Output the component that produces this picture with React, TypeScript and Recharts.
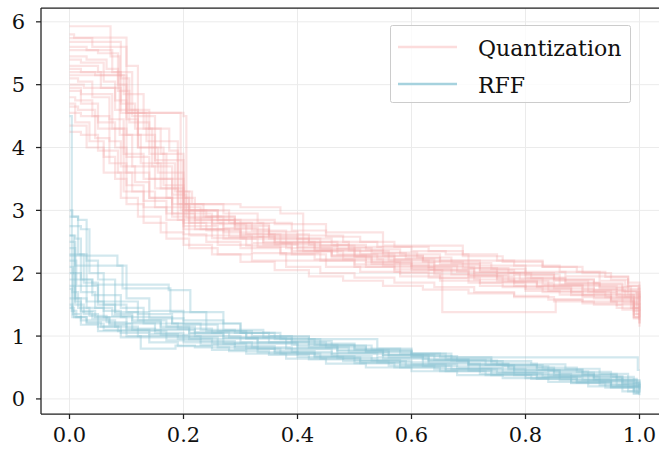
import { LineChart, Line, XAxis, YAxis, CartesianGrid, ReferenceLine } from "recharts";

// each run is a step curve: [x, y] pairs, y holds until the next x
const quantizationRuns: number[][][] = [
  [[0, 5.93], [0.072, 5.45], [0.088, 4.2], [0.11, 3.7], [0.15, 3.35], [0.2, 2.95], [0.25, 2.78], [0.31, 2.62], [0.37, 2.48], [0.44, 2.38], [0.51, 2.3], [0.57, 2.22], [0.64, 2.12], [0.72, 2.02], [0.8, 1.93], [0.87, 1.85], [0.93, 1.78], [0.985, 1.55], [1, 1.55]],
  [[0, 5.74], [0.04, 5.6], [0.1, 4.55], [0.135, 4.1], [0.19, 3.05], [0.23, 2.85], [0.29, 2.7], [0.35, 2.55], [0.42, 2.45], [0.49, 2.36], [0.55, 2.28], [0.62, 2.2], [0.7, 2.08], [0.77, 2.0], [0.85, 1.9], [0.92, 1.84], [0.97, 1.72], [0.995, 1.35], [1, 1.35]],
  [[0, 5.68], [0.03, 5.68], [0.09, 5.1], [0.105, 4.4], [0.14, 3.9], [0.17, 3.2], [0.21, 2.9], [0.27, 2.72], [0.33, 2.58], [0.4, 2.42], [0.47, 2.3], [0.54, 2.22], [0.6, 2.12], [0.68, 2.02], [0.75, 1.92], [0.83, 1.82], [0.9, 1.74], [0.96, 1.66], [0.99, 1.3], [1, 1.3]],
  [[0, 5.2], [0.045, 5.15], [0.1, 4.55], [0.195, 3.0], [0.22, 2.85], [0.3, 2.62], [0.36, 2.5], [0.43, 2.38], [0.5, 2.27], [0.56, 2.2], [0.63, 2.1], [0.71, 2.0], [0.79, 1.9], [0.86, 1.82], [0.92, 1.73], [0.975, 1.62], [1, 1.45]],
  [[0, 5.15], [0.06, 5.05], [0.08, 4.6], [0.12, 4.0], [0.155, 3.6], [0.2, 2.8], [0.24, 2.68], [0.3, 2.55], [0.38, 2.4], [0.46, 2.28], [0.53, 2.18], [0.6, 2.08], [0.67, 1.98], [0.75, 1.88], [0.82, 1.8], [0.9, 1.72], [0.95, 1.65], [0.99, 1.4], [1, 1.4]],
  [[0, 4.9], [0.02, 4.85], [0.075, 4.3], [0.095, 3.9], [0.13, 3.5], [0.18, 3.1], [0.21, 2.8], [0.27, 2.65], [0.34, 2.5], [0.41, 2.35], [0.48, 2.22], [0.55, 2.12], [0.63, 2.05], [0.7, 1.95], [0.78, 1.85], [0.85, 1.76], [0.92, 1.68], [0.97, 1.6], [1, 1.25]],
  [[0, 4.55], [0.02, 4.5], [0.05, 4.3], [0.1, 3.85], [0.14, 3.5], [0.2, 2.75], [0.26, 2.6], [0.32, 2.48], [0.39, 2.35], [0.46, 2.25], [0.53, 2.15], [0.6, 2.05], [0.654, 1.38], [0.853, 1.58], [0.9, 1.55], [0.96, 1.5], [1, 1.2]],
  [[0, 5.55], [0.05, 5.5], [0.085, 5.0], [0.1, 4.45], [0.12, 4.0], [0.165, 3.4], [0.2, 3.1], [0.3, 3.05], [0.37, 2.95], [0.41, 2.6], [0.48, 2.5], [0.54, 2.42], [0.6, 2.35], [0.66, 2.3], [0.7, 2.2], [0.78, 2.12], [0.86, 2.02], [0.93, 1.95], [0.98, 1.8], [1, 1.55]],
  [[0, 5.3], [0.05, 5.2], [0.11, 4.5], [0.15, 3.8], [0.2, 3.0], [0.26, 2.85], [0.36, 2.78], [0.45, 2.65], [0.55, 2.44], [0.69, 2.3], [0.75, 2.2], [0.83, 2.1], [0.9, 2.0], [0.95, 1.9], [0.98, 1.75], [1, 1.6]],
  [[0, 4.8], [0.01, 4.75], [0.04, 4.5], [0.07, 4.1], [0.09, 3.7], [0.115, 3.45], [0.14, 3.2], [0.18, 2.95], [0.22, 2.7], [0.27, 2.55], [0.33, 2.42], [0.39, 2.3], [0.45, 2.2], [0.52, 2.1], [0.58, 2.0], [0.65, 1.92], [0.72, 1.85], [0.8, 1.75], [0.88, 1.65], [0.95, 1.55], [0.99, 1.45], [1, 1.45]],
  [[0, 5.0], [0.025, 4.95], [0.08, 4.75], [0.1, 4.2], [0.125, 3.75], [0.16, 3.35], [0.19, 3.1], [0.235, 2.9], [0.29, 2.75], [0.35, 2.6], [0.41, 2.5], [0.47, 2.4], [0.53, 2.32], [0.59, 2.24], [0.65, 2.15], [0.72, 2.05], [0.78, 1.97], [0.85, 1.88], [0.91, 1.8], [0.96, 1.72], [0.995, 1.5], [1, 1.5]],
  [[0, 5.6], [0.03, 5.55], [0.075, 5.2], [0.09, 4.7], [0.115, 4.3], [0.145, 3.7], [0.18, 3.25], [0.205, 2.88], [0.25, 2.7], [0.3, 2.58], [0.36, 2.46], [0.43, 2.35], [0.5, 2.26], [0.57, 2.16], [0.64, 2.06], [0.71, 1.97], [0.77, 1.88], [0.84, 1.8], [0.91, 1.7], [0.96, 1.62], [0.99, 1.35], [1, 1.35]],
  [[0, 4.65], [0.015, 4.6], [0.045, 4.15], [0.07, 3.75], [0.1, 3.4], [0.13, 3.15], [0.17, 2.95], [0.2, 2.7], [0.25, 2.56], [0.31, 2.44], [0.37, 2.32], [0.44, 2.2], [0.5, 2.1], [0.57, 2.02], [0.63, 1.93], [0.7, 1.85], [0.76, 1.78], [0.83, 1.7], [0.9, 1.62], [0.95, 1.55], [0.99, 1.3], [1, 1.3]],
  [[0, 5.4], [0.02, 5.35], [0.06, 5.15], [0.095, 4.85], [0.13, 4.3], [0.16, 3.9], [0.2, 3.2], [0.22, 3.0], [0.28, 2.8], [0.34, 2.66], [0.4, 2.55], [0.46, 2.45], [0.52, 2.38], [0.58, 2.3], [0.65, 2.2], [0.72, 2.12], [0.8, 2.02], [0.87, 1.95], [0.93, 1.88], [0.975, 1.8], [0.998, 1.6], [1, 1.6]],
  [[0, 4.25], [0.02, 4.2], [0.05, 3.95], [0.085, 3.6], [0.11, 3.3], [0.15, 3.05], [0.19, 2.85], [0.23, 2.7], [0.28, 2.58], [0.34, 2.46], [0.4, 2.36], [0.46, 2.28], [0.52, 2.18], [0.58, 2.1], [0.64, 2.03], [0.7, 1.95], [0.76, 1.86], [0.82, 1.78], [0.88, 1.7], [0.94, 1.62], [0.985, 1.45], [1, 1.45]],
  [[0, 5.8], [0.008, 5.75], [0.1, 5.3], [0.12, 4.55], [0.2, 4.5], [0.205, 3.0], [0.26, 2.8], [0.32, 2.68], [0.38, 2.55], [0.44, 2.44], [0.5, 2.35], [0.56, 2.27], [0.62, 2.18], [0.69, 2.08], [0.75, 2.0], [0.81, 1.92], [0.87, 1.84], [0.93, 1.76], [0.98, 1.66], [1, 1.4]],
  [[0, 4.35], [0.03, 4.0], [0.06, 3.6], [0.09, 3.2], [0.12, 2.9], [0.16, 2.65], [0.2, 2.45], [0.25, 2.3], [0.3, 2.18], [0.36, 2.05], [0.42, 1.95], [0.48, 1.88], [0.55, 1.8], [0.62, 1.74], [0.7, 1.68], [0.78, 1.62], [0.85, 1.55], [0.92, 1.5], [0.97, 1.42], [1, 1.2]],
  [[0, 4.95], [0.02, 4.7], [0.05, 4.4], [0.08, 4.0], [0.1, 3.6], [0.14, 3.2], [0.18, 2.9], [0.21, 2.6], [0.26, 2.45], [0.32, 2.32], [0.38, 2.2], [0.45, 2.1], [0.51, 2.02], [0.58, 1.95], [0.65, 1.88], [0.72, 1.8], [0.8, 1.72], [0.86, 1.66], [0.92, 1.6], [0.97, 1.52], [1, 1.3]],
  [[0, 5.1], [0.015, 5.05], [0.04, 4.8], [0.07, 4.45], [0.095, 3.3], [0.13, 3.05], [0.17, 2.85], [0.2, 2.62], [0.24, 2.5], [0.3, 2.4], [0.37, 2.3], [0.43, 2.22], [0.5, 2.14], [0.57, 2.06], [0.64, 1.98], [0.71, 1.9], [0.78, 1.8], [0.84, 1.72], [0.9, 1.65], [0.95, 1.58], [0.99, 1.28], [1, 1.28]],
  [[0, 5.45], [0.03, 5.4], [0.065, 5.25], [0.085, 4.9], [0.105, 4.6], [0.14, 4.3], [0.175, 3.95], [0.19, 3.3], [0.215, 3.1], [0.27, 2.95], [0.33, 2.8], [0.39, 2.68], [0.45, 2.58], [0.51, 2.5], [0.57, 2.42], [0.63, 2.35], [0.69, 2.27], [0.76, 2.18], [0.83, 2.1], [0.89, 2.02], [0.94, 1.94], [0.98, 1.85], [1, 1.62]],
  [[0, 4.7], [0.01, 4.4], [0.035, 4.1], [0.06, 3.85], [0.08, 3.5], [0.1, 3.1], [0.13, 2.8], [0.17, 2.55], [0.21, 2.4], [0.26, 2.3], [0.32, 2.2], [0.38, 2.1], [0.44, 2.0], [0.5, 1.93], [0.57, 1.85], [0.64, 1.78], [0.71, 1.7], [0.78, 1.64], [0.84, 1.58], [0.9, 1.52], [0.96, 1.45], [1, 1.15]],
  [[0, 5.25], [0.02, 5.2], [0.055, 4.95], [0.09, 4.55], [0.12, 4.2], [0.15, 3.75], [0.185, 3.3], [0.21, 3.0], [0.24, 2.9], [0.29, 2.78], [0.35, 2.62], [0.42, 2.5], [0.49, 2.42], [0.55, 2.33], [0.61, 2.25], [0.67, 2.16], [0.74, 2.07], [0.8, 1.98], [0.86, 1.9], [0.92, 1.82], [0.97, 1.7], [1, 1.5]],
];

const rffRuns: number[][][] = [
  [[0, 4.5], [0.004, 2.0], [0.01, 1.6], [0.03, 1.45], [0.06, 1.3], [0.1, 1.2], [0.15, 1.1], [0.22, 1.0], [0.3, 0.9], [0.38, 0.8], [0.46, 0.72], [0.55, 0.64], [0.63, 0.56], [0.72, 0.48], [0.8, 0.4], [0.88, 0.32], [0.95, 0.24], [0.99, 0.15], [1, 0.15]],
  [[0, 2.9], [0.015, 2.85], [0.03, 2.2], [0.05, 1.9], [0.08, 1.55], [0.12, 1.35], [0.18, 1.2], [0.24, 1.08], [0.31, 0.96], [0.39, 0.86], [0.47, 0.78], [0.55, 0.7], [0.64, 0.62], [0.73, 0.54], [0.82, 0.46], [0.9, 0.38], [0.96, 0.3], [0.995, 0.2], [1, 0.2]],
  [[0, 2.28], [0.084, 2.12], [0.1, 1.6], [0.14, 1.4], [0.2, 1.25], [0.27, 1.1], [0.34, 0.98], [0.42, 0.88], [0.5, 0.8], [0.58, 0.72], [0.65, 0.66], [0.997, 0.46], [1, 0.46]],
  [[0, 2.5], [0.01, 2.12], [0.093, 1.76], [0.177, 1.38], [0.24, 1.2], [0.3, 1.05], [0.36, 0.95], [0.43, 0.86], [0.5, 0.78], [0.56, 0.7], [0.63, 0.62], [0.7, 0.55], [0.77, 0.47], [0.85, 0.38], [0.92, 0.3], [0.98, 0.2], [1, 0.2]],
  [[0, 1.9], [0.01, 1.5], [0.025, 1.35], [0.05, 1.25], [0.08, 1.15], [0.12, 1.08], [0.17, 1.0], [0.23, 0.92], [0.29, 0.84], [0.36, 0.76], [0.43, 0.68], [0.5, 0.62], [0.58, 0.55], [0.66, 0.48], [0.74, 0.42], [0.82, 0.35], [0.89, 0.28], [0.95, 0.2], [0.995, 0.1], [1, 0.1]],
  [[0, 2.6], [0.008, 2.0], [0.02, 1.7], [0.045, 1.45], [0.075, 1.32], [0.11, 1.22], [0.16, 1.12], [0.21, 1.04], [0.27, 0.96], [0.33, 0.88], [0.4, 0.8], [0.47, 0.73], [0.54, 0.66], [0.62, 0.58], [0.7, 0.52], [0.78, 0.44], [0.86, 0.36], [0.93, 0.28], [0.99, 0.18], [1, 0.18]],
  [[0, 2.3], [0.01, 1.9], [0.04, 1.82], [0.174, 1.73], [0.212, 1.38], [0.27, 1.2], [0.3, 1.05], [0.37, 0.95], [0.44, 0.85], [0.52, 0.76], [0.6, 0.68], [0.68, 0.6], [0.76, 0.52], [0.84, 0.44], [0.91, 0.36], [0.97, 0.26], [1, 0.18]],
  [[0, 1.6], [0.006, 1.35], [0.02, 1.25], [0.05, 1.15], [0.09, 1.05], [0.14, 0.98], [0.2, 0.9], [0.26, 0.82], [0.33, 0.74], [0.4, 0.67], [0.48, 0.6], [0.56, 0.53], [0.64, 0.47], [0.72, 0.4], [0.8, 0.33], [0.88, 0.26], [0.94, 0.18], [0.99, 0.1], [1, 0.1]],
  [[0, 2.0], [0.005, 1.7], [0.015, 1.45], [0.035, 1.32], [0.065, 1.22], [0.1, 1.12], [0.15, 1.05], [0.2, 0.98], [0.26, 0.9], [0.32, 0.82], [0.39, 0.75], [0.46, 0.68], [0.53, 0.61], [0.6, 0.55], [0.68, 0.49], [0.76, 0.42], [0.84, 0.36], [0.91, 0.28], [0.97, 0.2], [1, 0.12]],
  [[0, 2.2], [0.012, 1.8], [0.03, 1.55], [0.06, 1.4], [0.09, 1.3], [0.13, 1.2], [0.19, 1.12], [0.25, 1.05], [0.31, 0.97], [0.38, 0.9], [0.45, 0.82], [0.52, 0.75], [0.6, 0.68], [0.67, 0.61], [0.75, 0.54], [0.83, 0.47], [0.9, 0.4], [0.96, 0.32], [0.995, 0.22], [1, 0.22]],
  [[0, 1.45], [0.008, 1.3], [0.03, 1.2], [0.06, 1.1], [0.1, 1.0], [0.125, 0.8], [0.186, 0.85], [0.22, 0.82], [0.28, 0.76], [0.35, 0.7], [0.42, 0.63], [0.5, 0.57], [0.57, 0.5], [0.65, 0.44], [0.73, 0.38], [0.81, 0.32], [0.88, 0.25], [0.95, 0.18], [0.99, 0.08], [1, 0.08]],
  [[0, 2.75], [0.02, 2.7], [0.035, 2.0], [0.06, 1.65], [0.09, 1.45], [0.13, 1.3], [0.18, 1.2], [0.23, 1.1], [0.29, 1.05], [0.35, 1.0], [0.42, 0.95], [0.54, 0.8], [0.6, 0.72], [0.66, 0.63], [0.74, 0.56], [0.82, 0.5], [0.89, 0.43], [0.95, 0.35], [0.99, 0.25], [1, 0.25]],
  [[0, 1.75], [0.004, 1.4], [0.012, 1.3], [0.03, 1.22], [0.055, 1.15], [0.085, 1.08], [0.12, 1.0], [0.17, 0.93], [0.23, 0.86], [0.29, 0.8], [0.36, 0.73], [0.43, 0.66], [0.51, 0.6], [0.59, 0.53], [0.67, 0.47], [0.75, 0.41], [0.83, 0.35], [0.9, 0.3], [0.96, 0.22], [1, 0.14]],
  [[0, 2.4], [0.01, 2.3], [0.025, 1.85], [0.05, 1.55], [0.08, 1.38], [0.12, 1.25], [0.17, 1.15], [0.22, 1.06], [0.28, 0.98], [0.35, 0.9], [0.42, 0.82], [0.49, 0.74], [0.56, 0.66], [0.63, 0.6], [0.7, 0.54], [0.78, 0.46], [0.86, 0.39], [0.92, 0.32], [0.97, 0.24], [1, 0.16]],
  [[0, 3.0], [0.005, 2.9], [0.015, 2.3], [0.03, 1.8], [0.05, 1.5], [0.08, 1.35], [0.11, 1.25], [0.16, 1.15], [0.21, 1.05], [0.27, 0.97], [0.33, 0.9], [0.4, 0.83], [0.47, 0.76], [0.55, 0.7], [0.62, 0.63], [0.7, 0.56], [0.77, 0.5], [0.85, 0.42], [0.92, 0.35], [0.97, 0.28], [1, 0.2]],
  [[0, 1.8], [0.01, 1.55], [0.02, 1.4], [0.045, 1.3], [0.07, 1.2], [0.11, 1.1], [0.16, 1.02], [0.21, 0.95], [0.27, 0.88], [0.33, 0.8], [0.4, 0.72], [0.47, 0.65], [0.54, 0.58], [0.62, 0.52], [0.7, 0.45], [0.78, 0.38], [0.86, 0.3], [0.93, 0.22], [0.98, 0.12], [1, 0.12]],
  [[0, 2.1], [0.006, 1.6], [0.02, 1.38], [0.04, 1.28], [0.07, 1.18], [0.1, 1.1], [0.14, 1.03], [0.19, 0.96], [0.25, 0.88], [0.31, 0.8], [0.37, 0.72], [0.44, 0.64], [0.51, 0.57], [0.58, 0.5], [0.66, 0.44], [0.74, 0.38], [0.82, 0.32], [0.89, 0.26], [0.95, 0.19], [1, 0.1]],
  [[0, 2.6], [0.01, 2.55], [0.02, 1.9], [0.04, 1.65], [0.06, 1.5], [0.1, 1.38], [0.14, 1.28], [0.2, 1.18], [0.26, 1.08], [0.32, 1.0], [0.39, 0.92], [0.46, 0.85], [0.53, 0.78], [0.6, 0.72], [0.67, 0.66], [0.74, 0.6], [0.81, 0.55], [0.87, 0.48], [0.93, 0.4], [0.98, 0.3], [1, 0.22]],
  [[0, 1.5], [0.005, 1.3], [0.02, 1.18], [0.05, 1.08], [0.09, 0.98], [0.14, 0.9], [0.19, 0.84], [0.25, 0.78], [0.31, 0.72], [0.38, 0.64], [0.45, 0.56], [0.52, 0.5], [0.6, 0.44], [0.68, 0.38], [0.76, 0.33], [0.84, 0.27], [0.91, 0.2], [0.97, 0.12], [1, 0.06]],
];

const xTicks = [0, 0.2, 0.4, 0.6, 0.8, 1.0];
const yTicks = [0, 1, 2, 3, 4, 5, 6];
const seriesNames = ["Quantization", "RFF"];

const PINK = "#f4a8a8";
const BLUE = "#89c2d3";
const FONT = "DejaVu Serif, serif";

const toPoints = (run: number[][]) => run.map(([x, y]) => ({ x, y }));

export default function App() {
  const tick = { fontSize: 21, fill: "#111", fontFamily: FONT };
  return (
    <div style={{ position: "fixed", left: 0, top: 0, width: 659, height: 450, overflow: "hidden", background: "#fff", fontFamily: FONT }}>
      <LineChart width={668} height={450} margin={{ top: 8, right: 0, left: 0, bottom: 0 }}>
        <CartesianGrid stroke="#ebebeb" strokeWidth={1} />
        <XAxis
          dataKey="x"
          type="number"
          domain={[-0.05, 1.05]}
          ticks={xTicks}
          allowDataOverflow
          height={36}
          tick={tick}
          tickSize={5}
          tickMargin={8}
          tickFormatter={(v: number) => v.toFixed(1)}
          axisLine={{ stroke: "#222", strokeWidth: 1.25 }}
          tickLine={{ stroke: "#222", strokeWidth: 1.25 }}
        />
        <YAxis
          type="number"
          domain={[-0.24, 6.22]}
          ticks={yTicks}
          allowDataOverflow
          width={41}
          tick={tick}
          tickSize={5}
          tickMargin={11}
          axisLine={{ stroke: "#222", strokeWidth: 1.25 }}
          tickLine={{ stroke: "#222", strokeWidth: 1.25 }}
        />
        <ReferenceLine y={6.22} stroke="#222" strokeWidth={1.25} />
        {quantizationRuns.map((run, i) => (
          <Line
            key={"q" + i}
            data={toPoints(run)}
            dataKey="y"
            type="stepAfter"
            stroke={PINK}
            strokeOpacity={0.32}
            strokeWidth={2.2}
            dot={false}
            activeDot={false}
            isAnimationActive={false}
          />
        ))}
        {rffRuns.map((run, i) => (
          <Line
            key={"r" + i}
            data={toPoints(run)}
            dataKey="y"
            type="stepAfter"
            stroke={BLUE}
            strokeOpacity={0.38}
            strokeWidth={2.2}
            dot={false}
            activeDot={false}
            isAnimationActive={false}
          />
        ))}
      </LineChart>
      <svg
        width={241}
        height={78}
        style={{ position: "absolute", left: 390, top: 25 }}
      >
        <rect x={0.5} y={0.5} width={240} height={77} rx={2} fill="rgba(255,255,255,0.8)" stroke="#cccccc" />
        <line x1={8} x2={67} y1={22} y2={22} stroke="#fcdcdc" strokeWidth={2.5} />
        <text x={88} y={31} fontSize={22} fontFamily={FONT} fill="#111">{seriesNames[0]}</text>
        <line x1={8} x2={67} y1={59} y2={59} stroke="#a6d2de" strokeWidth={2.5} />
        <text x={88} y={68} fontSize={22} fontFamily={FONT} fill="#111">{seriesNames[1]}</text>
      </svg>
    </div>
  );
}
